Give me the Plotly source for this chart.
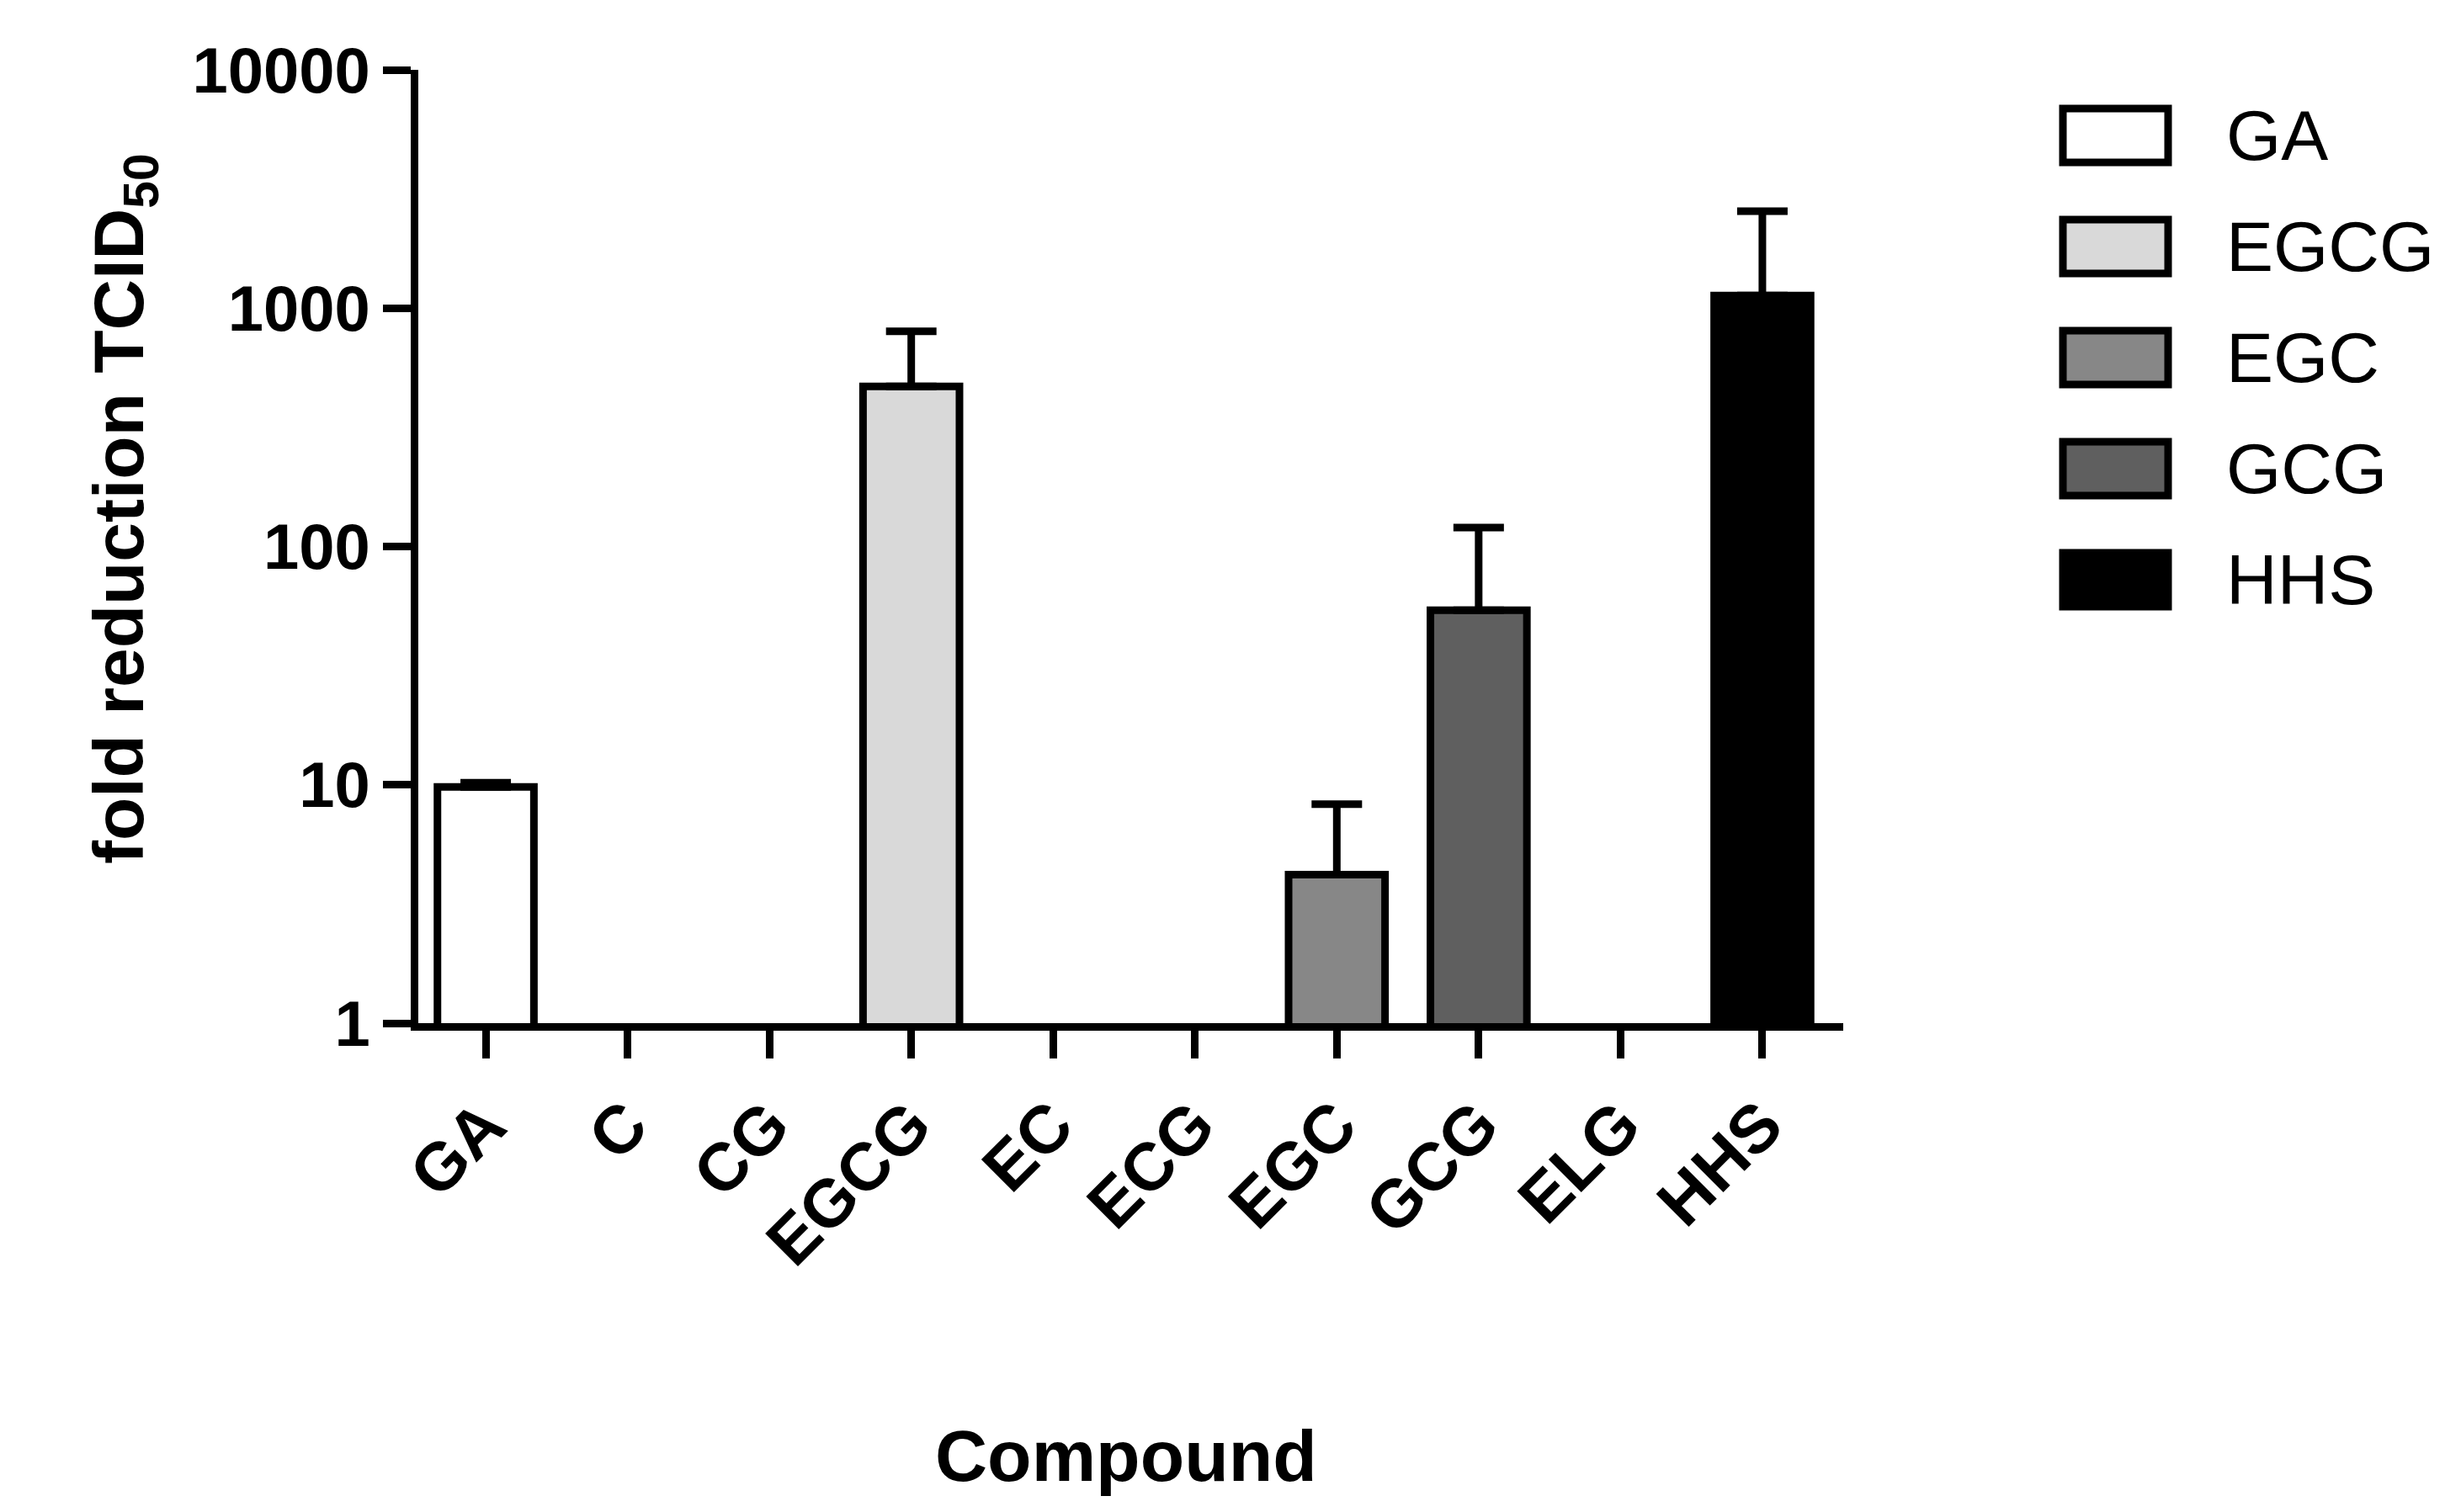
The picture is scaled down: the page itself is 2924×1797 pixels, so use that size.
import plotly.graph_objects as go

categories = ["GA", "C", "CG", "EGCG", "EC", "ECG", "EGC", "GCG", "ELG", "HHS"]
series = ["GA", "EGCG", "EGC", "GCG", "HHS"]
values = [9.8, 470, 4.2, 54, 1130]
upper = [10.2, 800, 8.3, 120, 2550]
colors = ["#ffffff", "#d9d9d9", "#878787", "#5f5f5f", "#000000"]

W, H = 2924, 1797
L, R, T, B = 489, 2182, 75, 1208
def px(x): return (x - L) / (R - L)
def py(y): return (B - y) / (B - T)

FONT = "Liberation Sans"
fig = go.Figure()
for s, v, u, c in zip(series, values, upper, colors):
    fig.add_trace(go.Bar(
        x=[s], y=[v], width=0.68, marker=dict(color=c, line=dict(color="black", width=9)),
        error_y=dict(type="data", symmetric=False, array=[u - v], arrayminus=[0],
                     color="black", thickness=9, width=30),
        showlegend=False, name=s))

fig.update_layout(
    width=W, height=H, margin=dict(l=L, r=W - R, t=T, b=H - B),
    plot_bgcolor="white", paper_bgcolor="white", barmode="overlay",
    font=dict(family=FONT, color="black"),
    xaxis=dict(type="category", categoryorder="array", categoryarray=categories,
               range=[-0.475, 9.57], showline=True, linecolor="black", linewidth=9,
               ticks="outside", ticklen=33, tickwidth=9, tickcolor="black",
               tickangle=-45, tickfont=dict(size=80, family=FONT, weight="bold"),
               showgrid=False),
    yaxis=dict(type="log", range=[0, 4], showline=True, linecolor="black", linewidth=9,
               ticks="outside", ticklen=33, tickwidth=9, tickcolor="black",
               tickvals=[1, 10, 100, 1000, 10000], ticktext=["1", "10", "100", "1000", "10000"],
               tickfont=dict(size=76, family=FONT, weight="bold"), showgrid=False, zeroline=False),
)

fig.add_annotation(x=px(84), y=py(597), xref="paper", yref="paper", textangle=-90,
                   text="<b>fold reduction TCID<sub>50</sub></b>", showarrow=False,
                   font=dict(size=84, family=FONT))
fig.add_annotation(x=px(1330), y=py(1722), xref="paper", yref="paper", yanchor="middle",
                   text="<b>Compound</b>", showarrow=False, font=dict(size=86, family=FONT))

# legend
for i, (s, c) in enumerate(zip(series, colors)):
    yc = 153 + i * 132
    fig.add_shape(type="rect", xref="paper", yref="paper",
                  x0=px(2443), x1=px(2568), y0=py(yc - 32), y1=py(yc + 32),
                  fillcolor=c, line=dict(color="black", width=9))
    fig.add_annotation(x=px(2635), y=py(yc), xref="paper", yref="paper",
                       xanchor="left", yanchor="middle", align="left",
                       text=s, showarrow=False, font=dict(size=84, family=FONT))

fig.write_html("out.html")
